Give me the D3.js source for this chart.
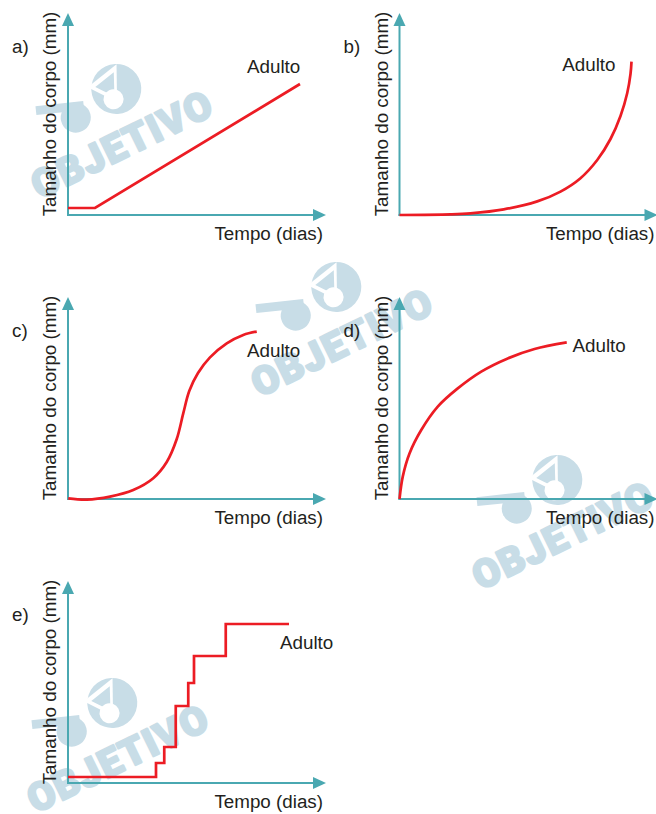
<!DOCTYPE html>
<html>
<head>
<meta charset="utf-8">
<script src="https://cdn.jsdelivr.net/npm/d3@7/dist/d3.min.js"></script>
<style>
  html, body { margin: 0; padding: 0; background: #ffffff; }
  svg { display: block; }
  text { font-family: "Liberation Sans", Arial, Helvetica, sans-serif; }
</style>
</head>
<body>
<svg id="chart" width="656" height="814"></svg>
<script>
// ---------- data ----------
const panelLetters = ["a)", "b)", "c)", "d)", "e)"];
const xAxisLabel = "Tempo (dias)";
const yAxisLabel = "Tamanho do corpo (mm)";
const endLabel = "Adulto";
const watermarkWord = "OBJETIVO";

// time (arbitrary units 0..10) vs body size (arbitrary units 0..10)
const growthA = [[0, 0.35], [1.08, 0.35], [9.28, 6.55]];
const growthB = [[0, 0], [2.04, 0.03], [2.84, 0.08], [4.17, 0.28], [5.51, 0.68], [6.44, 1.17],
                 [7.24, 1.84], [7.91, 2.75], [8.44, 3.8], [8.84, 4.95], [9.11, 6.1], [9.24, 7.05], [9.28, 7.67]];
const growthC = [[0.01, 0.03], [0.75, -0.03], [1.68, 0.12], [2.61, 0.45], [3.41, 1.04], [3.95, 1.85],
                 [4.35, 3.0], [4.61, 4.28], [4.85, 5.4], [5.2, 6.3], [5.68, 7.08], [6.35, 7.78], [7.01, 8.2], [7.55, 8.37]];
const growthD = [[0, 0], [0.13, 1.12], [0.4, 2.28], [0.87, 3.45], [1.53, 4.62], [2.33, 5.53],
                 [3.27, 6.37], [4.33, 7.03], [5.4, 7.5], [6.69, 7.83]];
const growthE = [[0, 0.3], [3.52, 1.0], [3.85, 1.8], [4.31, 3.85], [4.81, 5.0], [5.04, 6.35], [6.31, 7.95], [8.84, 7.95]];

// ---------- layout / style ----------
const colX = [68, 399.5];
const rowY = [215, 499, 783];
const TEAL = "#4aa8b1";
const RED = "#ec1c24";
const INK = "#231f20";
const WM = "#c8dde7";
const FS = 18.8;

const panels = [
  { letter: panelLetters[0], data: growthA, curve: d3.curveLinear,     col: 0, row: 0, labelAt: [7.16, 7.1] },
  { letter: panelLetters[1], data: growthB, curve: d3.curveCatmullRom.alpha(0.5), col: 1, row: 0, labelAt: [6.51, 7.2] },
  { letter: panelLetters[2], data: growthC, curve: d3.curveCatmullRom.alpha(0.5), col: 0, row: 1, labelAt: [7.16, 7.1] },
  { letter: panelLetters[3], data: growthD, curve: d3.curveCatmullRom.alpha(0.5), col: 1, row: 1, labelAt: [6.92, 7.35] },
  { letter: panelLetters[4], data: growthE, curve: d3.curveStepAfter,  col: 0, row: 2, labelAt: [8.48, 6.7] }
];

const svg = d3.select("#chart");

// ---------- watermark ----------
const watermarks = [[122, 144], [342, 342], [563, 535], [118, 758]];
watermarks.forEach(([cx, cy]) => {
  const g = svg.append("g").attr("transform", `translate(${cx},${cy}) rotate(-26)`);
  // logo
  g.append("rect").attr("x", -64).attr("y", -64).attr("width", 48).attr("height", 9)
    .attr("transform", "rotate(20,-40,-60)").attr("fill", WM);
  g.append("circle").attr("cx", -30).attr("cy", -44).attr("r", 15).attr("fill", WM);
  g.append("circle").attr("cx", 19).attr("cy", -52).attr("r", 25).attr("fill", WM);
  g.append("path").attr("d", "M-6,-66 L30,-74 L14,-40 Z").attr("fill", "#ffffff");
  g.append("path").attr("d", "M1,-63 L24,-68 L14,-46 Z").attr("fill", WM);
  g.append("circle").attr("cx", 12).attr("cy", -44).attr("r", 10).attr("fill", "#ffffff");
  // word
  g.append("text").attr("x", 0).attr("y", 14).attr("text-anchor", "middle")
    .style("font-family", "Roboto, 'Open Sans', 'Liberation Sans', sans-serif")
    .attr("font-size", 39).attr("font-weight", 900).attr("fill", WM)
    .attr("letter-spacing", 1.5)
    .attr("stroke", WM).attr("stroke-width", 2.2).attr("stroke-linejoin", "round")
    .text(watermarkWord);
});

// ---------- panels ----------
panels.forEach(p => {
  const x0 = colX[p.col], y0 = rowY[p.row];
  const x = d3.scaleLinear().domain([0, 10]).range([x0, x0 + 250]);
  const y = d3.scaleLinear().domain([0, 10]).range([y0, y0 - 200]);
  const g = svg.append("g");

  const xTip = x(10.32), yTip = y(10.1);
  const head = 13, half = 6;

  // axes lines
  g.append("line").attr("x1", x(0)).attr("x2", x(0)).attr("y1", y(0) + 1).attr("y2", yTip + head - 1)
    .attr("stroke", TEAL).attr("stroke-width", 2);
  g.append("line").attr("x1", x(0) - 1).attr("x2", xTip - head + 1).attr("y1", y(0)).attr("y2", y(0))
    .attr("stroke", TEAL).attr("stroke-width", 2);
  // arrowheads
  g.append("path").attr("d", `M${x(0)},${yTip} L${x(0) + half},${yTip + head} L${x(0) - half},${yTip + head} Z`)
    .attr("fill", TEAL);
  g.append("path").attr("d", `M${xTip},${y(0)} L${xTip - head},${y(0) - half} L${xTip - head},${y(0) + half} Z`)
    .attr("fill", TEAL);

  // curve
  const line = d3.line().x(d => x(d[0])).y(d => y(d[1])).curve(p.curve);
  g.append("path").datum(p.data).attr("d", line)
    .attr("fill", "none").attr("stroke", RED).attr("stroke-width", 2.7)
    .attr("stroke-linejoin", "miter").attr("stroke-linecap", "butt");

  // texts
  g.append("text").attr("x", x0 - 56).attr("y", y0 - 162)
    .attr("font-size", FS).attr("fill", INK).text(p.letter);
  g.append("text").attr("transform", `translate(${x0 - 12},${y0 - 101}) rotate(-90)`)
    .attr("text-anchor", "middle").attr("font-size", FS).attr("fill", INK).text(yAxisLabel);
  g.append("text").attr("x", x0 + 255).attr("y", y0 + 25).attr("text-anchor", "end")
    .attr("font-size", FS).attr("fill", INK).text(xAxisLabel);
  g.append("text").attr("x", x(p.labelAt[0])).attr("y", y(p.labelAt[1]))
    .attr("font-size", FS).attr("fill", INK).text(endLabel);
});
</script>
</body>
</html>
